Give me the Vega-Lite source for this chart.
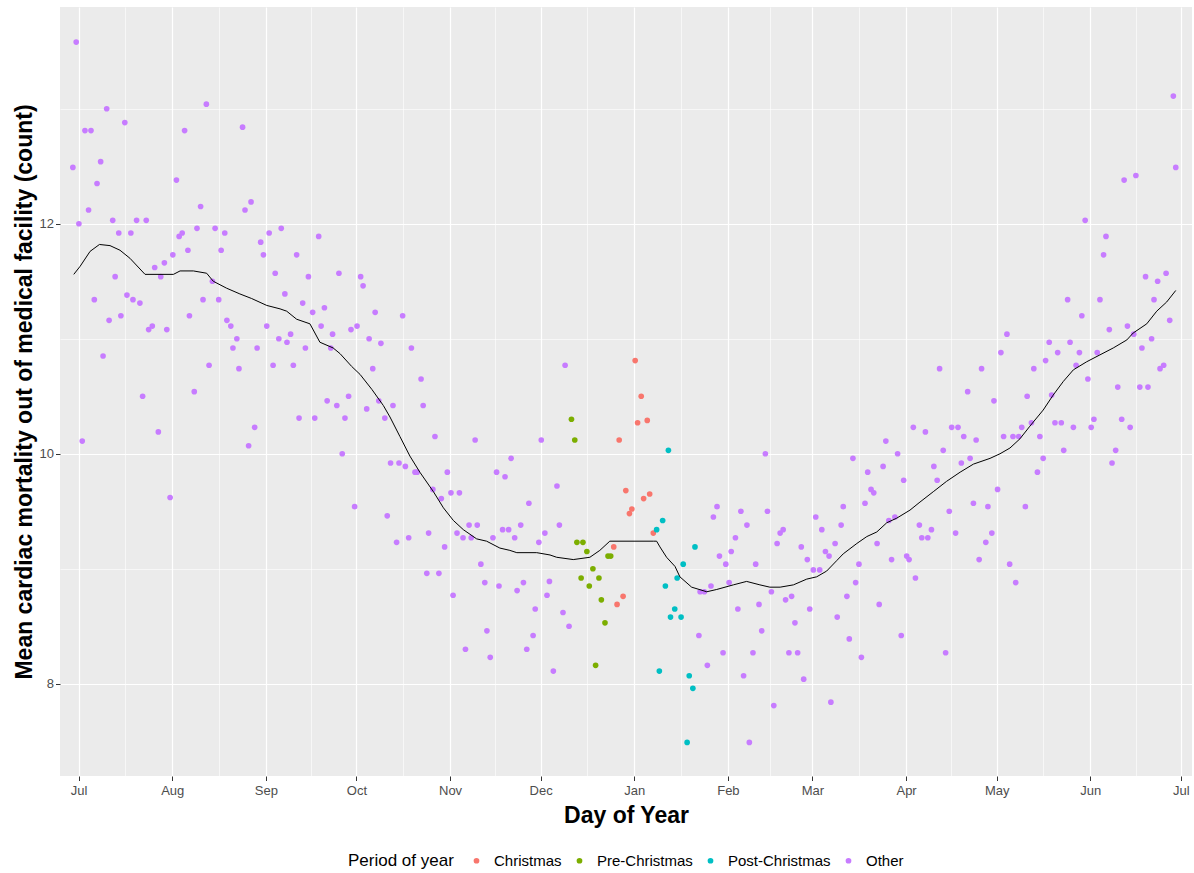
{
"$schema": "https://vega.github.io/schema/vega-lite/v6.json",
"width": 1132, "height": 769,
"autosize": "none",
"padding": {"left": 60, "top": 7, "right": 2, "bottom": 97},
"background": "white",
"config": {"view": {"fill": "#EBEBEB", "stroke": null}, "font": "Liberation Sans"},
"datasets": {
"pts": [
{"d":-0.8,"v":13.58,"p":"Other"},{"d":9.3,"v":13.0,"p":"Other"},{"d":15.3,"v":12.88,"p":"Other"},{"d":2.1,"v":12.81,"p":"Other"},{"d":4.1,"v":12.81,"p":"Other"},{"d":35.1,"v":12.81,"p":"Other"},{"d":-1.9,"v":12.49,"p":"Other"},{"d":7.3,"v":12.54,"p":"Other"},{"d":6.1,"v":12.35,"p":"Other"},{"d":32.4,"v":12.38,"p":"Other"},
{"d":3.3,"v":12.12,"p":"Other"},{"d":0.1,"v":12.0,"p":"Other"},{"d":11.3,"v":12.03,"p":"Other"},{"d":19.2,"v":12.03,"p":"Other"},{"d":22.4,"v":12.03,"p":"Other"},{"d":13.3,"v":11.92,"p":"Other"},{"d":17.3,"v":11.92,"p":"Other"},{"d":33.3,"v":11.89,"p":"Other"},{"d":34.3,"v":11.92,"p":"Other"},{"d":36.2,"v":11.77,"p":"Other"},
{"d":31.2,"v":11.73,"p":"Other"},{"d":28.4,"v":11.66,"p":"Other"},{"d":25.2,"v":11.62,"p":"Other"},{"d":27.2,"v":11.54,"p":"Other"},{"d":12.1,"v":11.54,"p":"Other"},{"d":5.2,"v":11.34,"p":"Other"},{"d":16.0,"v":11.38,"p":"Other"},{"d":18.0,"v":11.34,"p":"Other"},{"d":20.3,"v":11.31,"p":"Other"},{"d":36.7,"v":11.2,"p":"Other"},
{"d":10.1,"v":11.16,"p":"Other"},{"d":14.0,"v":11.2,"p":"Other"},{"d":23.2,"v":11.08,"p":"Other"},{"d":24.4,"v":11.11,"p":"Other"},{"d":29.2,"v":11.08,"p":"Other"},{"d":8.1,"v":10.85,"p":"Other"},{"d":21.2,"v":10.5,"p":"Other"},{"d":26.4,"v":10.19,"p":"Other"},{"d":1.2,"v":10.11,"p":"Other"},{"d":30.3,"v":9.62,"p":"Other"},
{"d":42.3,"v":13.04,"p":"Other"},{"d":54.3,"v":12.84,"p":"Other"},{"d":40.4,"v":12.15,"p":"Other"},{"d":57.1,"v":12.19,"p":"Other"},{"d":55.1,"v":12.12,"p":"Other"},{"d":39.2,"v":11.96,"p":"Other"},{"d":45.2,"v":11.96,"p":"Other"},{"d":48.4,"v":11.92,"p":"Other"},{"d":63.1,"v":11.92,"p":"Other"},{"d":67.1,"v":11.96,"p":"Other"},
{"d":60.3,"v":11.84,"p":"Other"},{"d":47.2,"v":11.77,"p":"Other"},{"d":61.2,"v":11.73,"p":"Other"},{"d":72.2,"v":11.73,"p":"Other"},{"d":65.1,"v":11.57,"p":"Other"},{"d":76.1,"v":11.54,"p":"Other"},{"d":44.3,"v":11.5,"p":"Other"},{"d":41.2,"v":11.34,"p":"Other"},{"d":46.4,"v":11.34,"p":"Other"},{"d":68.3,"v":11.39,"p":"Other"},
{"d":74.2,"v":11.31,"p":"Other"},{"d":49.1,"v":11.16,"p":"Other"},{"d":50.4,"v":11.11,"p":"Other"},{"d":62.3,"v":11.11,"p":"Other"},{"d":52.4,"v":11.0,"p":"Other"},{"d":51.1,"v":10.92,"p":"Other"},{"d":59.1,"v":10.92,"p":"Other"},{"d":66.3,"v":11.0,"p":"Other"},{"d":70.2,"v":11.04,"p":"Other"},{"d":69.0,"v":10.97,"p":"Other"},
{"d":75.1,"v":10.92,"p":"Other"},{"d":43.2,"v":10.77,"p":"Other"},{"d":53.1,"v":10.74,"p":"Other"},{"d":64.4,"v":10.77,"p":"Other"},{"d":71.1,"v":10.77,"p":"Other"},{"d":38.3,"v":10.54,"p":"Other"},{"d":73.0,"v":10.31,"p":"Other"},{"d":58.3,"v":10.23,"p":"Other"},{"d":56.3,"v":10.07,"p":"Other"},{"d":79.5,"v":11.89,"p":"Other"},
{"d":86.2,"v":11.57,"p":"Other"},{"d":93.4,"v":11.54,"p":"Other"},{"d":94.2,"v":11.46,"p":"Other"},{"d":77.5,"v":11.23,"p":"Other"},{"d":81.4,"v":11.27,"p":"Other"},{"d":80.3,"v":11.11,"p":"Other"},{"d":84.1,"v":11.04,"p":"Other"},{"d":90.2,"v":11.08,"p":"Other"},{"d":92.2,"v":11.11,"p":"Other"},{"d":98.2,"v":11.23,"p":"Other"},
{"d":107.3,"v":11.2,"p":"Other"},{"d":83.5,"v":10.92,"p":"Other"},{"d":96.2,"v":11.0,"p":"Other"},{"d":100.1,"v":10.96,"p":"Other"},{"d":110.2,"v":10.92,"p":"Other"},{"d":97.4,"v":10.74,"p":"Other"},{"d":113.4,"v":10.65,"p":"Other"},{"d":82.3,"v":10.46,"p":"Other"},{"d":85.5,"v":10.42,"p":"Other"},{"d":89.4,"v":10.5,"p":"Other"},
{"d":78.2,"v":10.31,"p":"Other"},{"d":88.2,"v":10.31,"p":"Other"},{"d":95.4,"v":10.39,"p":"Other"},{"d":99.4,"v":10.46,"p":"Other"},{"d":101.4,"v":10.31,"p":"Other"},{"d":104.1,"v":10.42,"p":"Other"},{"d":114.1,"v":10.42,"p":"Other"},{"d":87.3,"v":10.0,"p":"Other"},{"d":103.3,"v":9.92,"p":"Other"},{"d":106.1,"v":9.92,"p":"Other"},
{"d":108.2,"v":9.89,"p":"Other"},{"d":111.4,"v":9.84,"p":"Other"},{"d":112.1,"v":9.84,"p":"Other"},{"d":91.4,"v":9.54,"p":"Other"},{"d":102.2,"v":9.46,"p":"Other"},{"d":105.3,"v":9.23,"p":"Other"},{"d":109.3,"v":9.27,"p":"Other"},{"d":115.9,"v":9.31,"p":"Other"},{"d":118.0,"v":10.15,"p":"Other"},{"d":131.3,"v":10.12,"p":"Other"},
{"d":153.2,"v":10.12,"p":"Other"},{"d":143.2,"v":9.96,"p":"Other"},{"d":122.1,"v":9.84,"p":"Other"},{"d":138.4,"v":9.84,"p":"Other"},{"d":141.2,"v":9.8,"p":"Other"},{"d":117.3,"v":9.69,"p":"Other"},{"d":120.1,"v":9.61,"p":"Other"},{"d":123.3,"v":9.66,"p":"Other"},{"d":126.1,"v":9.66,"p":"Other"},{"d":149.1,"v":9.57,"p":"Other"},
{"d":125.3,"v":9.31,"p":"Other"},{"d":127.3,"v":9.27,"p":"Other"},{"d":129.3,"v":9.38,"p":"Other"},{"d":130.0,"v":9.27,"p":"Other"},{"d":132.0,"v":9.38,"p":"Other"},{"d":137.2,"v":9.27,"p":"Other"},{"d":140.4,"v":9.34,"p":"Other"},{"d":142.4,"v":9.34,"p":"Other"},{"d":144.4,"v":9.27,"p":"Other"},{"d":146.4,"v":9.38,"p":"Other"},
{"d":152.4,"v":9.23,"p":"Other"},{"d":154.4,"v":9.31,"p":"Other"},{"d":121.2,"v":9.19,"p":"Other"},{"d":133.2,"v":9.04,"p":"Other"},{"d":115.3,"v":8.96,"p":"Other"},{"d":119.3,"v":8.96,"p":"Other"},{"d":134.5,"v":8.88,"p":"Other"},{"d":139.2,"v":8.85,"p":"Other"},{"d":145.2,"v":8.81,"p":"Other"},{"d":147.3,"v":8.88,"p":"Other"},
{"d":155.9,"v":8.89,"p":"Other"},{"d":155.1,"v":8.77,"p":"Other"},{"d":124.0,"v":8.77,"p":"Other"},{"d":151.2,"v":8.65,"p":"Other"},{"d":135.2,"v":8.46,"p":"Other"},{"d":150.5,"v":8.42,"p":"Other"},{"d":128.1,"v":8.3,"p":"Other"},{"d":148.4,"v":8.3,"p":"Other"},{"d":136.3,"v":8.23,"p":"Other"},{"d":161.1,"v":10.77,"p":"Other"},
{"d":158.4,"v":9.72,"p":"Other"},{"d":159.2,"v":9.38,"p":"Other"},{"d":160.4,"v":8.62,"p":"Other"},{"d":162.4,"v":8.5,"p":"Other"},{"d":157.2,"v":8.11,"p":"Other"},
{"d":163.2,"v":10.3,"p":"Pre-Christmas"},{"d":164.3,"v":10.12,"p":"Pre-Christmas"},{"d":165.0,"v":9.23,"p":"Pre-Christmas"},{"d":167.0,"v":9.23,"p":"Pre-Christmas"},{"d":168.3,"v":9.15,"p":"Pre-Christmas"},{"d":175.3,"v":9.11,"p":"Pre-Christmas"},{"d":176.2,"v":9.11,"p":"Pre-Christmas"},{"d":170.3,"v":9.0,"p":"Pre-Christmas"},{"d":166.4,"v":8.92,"p":"Pre-Christmas"},{"d":172.3,"v":8.92,"p":"Pre-Christmas"},{"d":169.1,"v":8.85,"p":"Pre-Christmas"},{"d":173.1,"v":8.73,"p":"Pre-Christmas"},{"d":174.3,"v":8.53,"p":"Pre-Christmas"},{"d":171.2,"v":8.16,"p":"Pre-Christmas"},
{"d":177.2,"v":9.19,"p":"Christmas"},{"d":178.3,"v":8.69,"p":"Christmas"},{"d":179.0,"v":10.12,"p":"Christmas"},{"d":180.3,"v":8.76,"p":"Christmas"},{"d":181.2,"v":9.68,"p":"Christmas"},{"d":182.4,"v":9.48,"p":"Christmas"},{"d":183.2,"v":9.52,"p":"Christmas"},{"d":184.3,"v":10.81,"p":"Christmas"},{"d":185.1,"v":10.27,"p":"Christmas"},{"d":186.3,"v":10.5,"p":"Christmas"},{"d":187.1,"v":9.61,"p":"Christmas"},{"d":188.3,"v":10.29,"p":"Christmas"},{"d":189.1,"v":9.65,"p":"Christmas"},{"d":190.3,"v":9.31,"p":"Christmas"},
{"d":191.4,"v":9.34,"p":"Post-Christmas"},{"d":192.3,"v":8.11,"p":"Post-Christmas"},{"d":193.4,"v":9.42,"p":"Post-Christmas"},{"d":194.3,"v":8.85,"p":"Post-Christmas"},{"d":195.3,"v":10.03,"p":"Post-Christmas"},{"d":196.0,"v":8.58,"p":"Post-Christmas"},{"d":197.4,"v":8.65,"p":"Post-Christmas"},{"d":198.2,"v":8.92,"p":"Post-Christmas"},{"d":199.5,"v":8.58,"p":"Post-Christmas"},{"d":200.2,"v":9.04,"p":"Post-Christmas"},{"d":201.5,"v":7.49,"p":"Post-Christmas"},{"d":202.2,"v":8.07,"p":"Post-Christmas"},{"d":203.4,"v":7.96,"p":"Post-Christmas"},{"d":204.1,"v":9.19,"p":"Post-Christmas"},
{"d":227.4,"v":10.0,"p":"Other"},{"d":211.4,"v":9.54,"p":"Other"},{"d":210.2,"v":9.45,"p":"Other"},{"d":219.3,"v":9.5,"p":"Other"},{"d":228.1,"v":9.5,"p":"Other"},{"d":221.3,"v":9.38,"p":"Other"},{"d":217.5,"v":9.27,"p":"Other"},{"d":216.1,"v":9.15,"p":"Other"},{"d":212.2,"v":9.11,"p":"Other"},{"d":214.3,"v":9.04,"p":"Other"},
{"d":224.2,"v":9.04,"p":"Other"},{"d":231.3,"v":9.22,"p":"Other"},{"d":232.3,"v":9.31,"p":"Other"},{"d":233.3,"v":9.34,"p":"Other"},{"d":209.4,"v":8.85,"p":"Other"},{"d":215.4,"v":8.88,"p":"Other"},{"d":205.8,"v":8.8,"p":"Other"},{"d":207.2,"v":8.8,"p":"Other"},{"d":229.4,"v":8.8,"p":"Other"},{"d":234.1,"v":8.73,"p":"Other"},
{"d":225.3,"v":8.69,"p":"Other"},{"d":218.3,"v":8.65,"p":"Other"},{"d":226.2,"v":8.46,"p":"Other"},{"d":205.4,"v":8.42,"p":"Other"},{"d":213.4,"v":8.27,"p":"Other"},{"d":223.3,"v":8.27,"p":"Other"},{"d":235.2,"v":8.27,"p":"Other"},{"d":208.2,"v":8.16,"p":"Other"},{"d":220.2,"v":8.07,"p":"Other"},{"d":230.2,"v":7.81,"p":"Other"},
{"d":222.1,"v":7.49,"p":"Other"},{"d":267.3,"v":10.11,"p":"Other"},{"d":271.2,"v":10.0,"p":"Other"},{"d":256.4,"v":9.96,"p":"Other"},{"d":266.4,"v":9.89,"p":"Other"},{"d":261.3,"v":9.84,"p":"Other"},{"d":273.2,"v":9.77,"p":"Other"},{"d":262.4,"v":9.69,"p":"Other"},{"d":263.3,"v":9.66,"p":"Other"},{"d":260.4,"v":9.57,"p":"Other"},
{"d":253.2,"v":9.54,"p":"Other"},{"d":244.1,"v":9.45,"p":"Other"},{"d":252.5,"v":9.38,"p":"Other"},{"d":268.3,"v":9.42,"p":"Other"},{"d":270.3,"v":9.45,"p":"Other"},{"d":246.1,"v":9.34,"p":"Other"},{"d":250.5,"v":9.22,"p":"Other"},{"d":264.4,"v":9.22,"p":"Other"},{"d":239.3,"v":9.19,"p":"Other"},{"d":247.3,"v":9.15,"p":"Other"},
{"d":248.5,"v":9.11,"p":"Other"},{"d":241.3,"v":9.08,"p":"Other"},{"d":269.2,"v":9.08,"p":"Other"},{"d":274.2,"v":9.11,"p":"Other"},{"d":275.0,"v":9.08,"p":"Other"},{"d":258.4,"v":9.04,"p":"Other"},{"d":243.3,"v":8.99,"p":"Other"},{"d":245.4,"v":8.99,"p":"Other"},{"d":257.3,"v":8.88,"p":"Other"},{"d":236.1,"v":8.76,"p":"Other"},
{"d":254.4,"v":8.76,"p":"Other"},{"d":265.1,"v":8.69,"p":"Other"},{"d":242.1,"v":8.65,"p":"Other"},{"d":237.2,"v":8.53,"p":"Other"},{"d":251.2,"v":8.58,"p":"Other"},{"d":255.2,"v":8.39,"p":"Other"},{"d":272.4,"v":8.42,"p":"Other"},{"d":238.1,"v":8.27,"p":"Other"},{"d":259.2,"v":8.23,"p":"Other"},{"d":240.1,"v":8.04,"p":"Other"},
{"d":249.1,"v":7.84,"p":"Other"},{"d":307.4,"v":11.04,"p":"Other"},{"d":305.4,"v":10.88,"p":"Other"},{"d":285.1,"v":10.74,"p":"Other"},{"d":299.0,"v":10.74,"p":"Other"},{"d":294.4,"v":10.54,"p":"Other"},{"d":303.1,"v":10.46,"p":"Other"},{"d":314.1,"v":10.5,"p":"Other"},{"d":276.4,"v":10.23,"p":"Other"},{"d":280.4,"v":10.19,"p":"Other"},
{"d":289.1,"v":10.23,"p":"Other"},{"d":291.2,"v":10.23,"p":"Other"},{"d":293.1,"v":10.15,"p":"Other"},{"d":297.2,"v":10.12,"p":"Other"},{"d":306.3,"v":10.15,"p":"Other"},{"d":309.4,"v":10.15,"p":"Other"},{"d":311.3,"v":10.15,"p":"Other"},{"d":312.3,"v":10.23,"p":"Other"},{"d":286.3,"v":10.03,"p":"Other"},{"d":283.2,"v":9.89,"p":"Other"},
{"d":292.3,"v":9.92,"p":"Other"},{"d":295.2,"v":9.96,"p":"Other"},{"d":284.3,"v":9.77,"p":"Other"},{"d":304.3,"v":9.69,"p":"Other"},{"d":296.3,"v":9.57,"p":"Other"},{"d":301.1,"v":9.54,"p":"Other"},{"d":313.5,"v":9.54,"p":"Other"},{"d":288.3,"v":9.5,"p":"Other"},{"d":278.4,"v":9.38,"p":"Other"},{"d":282.4,"v":9.34,"p":"Other"},
{"d":279.2,"v":9.27,"p":"Other"},{"d":281.2,"v":9.27,"p":"Other"},{"d":290.4,"v":9.31,"p":"Other"},{"d":302.4,"v":9.31,"p":"Other"},{"d":300.4,"v":9.23,"p":"Other"},{"d":298.2,"v":9.08,"p":"Other"},{"d":308.3,"v":9.04,"p":"Other"},{"d":277.1,"v":8.92,"p":"Other"},{"d":310.3,"v":8.88,"p":"Other"},{"d":287.1,"v":8.27,"p":"Other"},
{"d":362.5,"v":13.11,"p":"Other"},{"d":363.3,"v":12.49,"p":"Other"},{"d":346.2,"v":12.38,"p":"Other"},{"d":350.1,"v":12.42,"p":"Other"},{"d":333.3,"v":12.03,"p":"Other"},{"d":340.2,"v":11.89,"p":"Other"},{"d":339.4,"v":11.73,"p":"Other"},{"d":353.3,"v":11.54,"p":"Other"},{"d":357.3,"v":11.5,"p":"Other"},{"d":360.1,"v":11.57,"p":"Other"},
{"d":327.5,"v":11.34,"p":"Other"},{"d":338.2,"v":11.34,"p":"Other"},{"d":356.1,"v":11.34,"p":"Other"},{"d":332.2,"v":11.2,"p":"Other"},{"d":361.3,"v":11.16,"p":"Other"},{"d":341.3,"v":11.08,"p":"Other"},{"d":347.3,"v":11.11,"p":"Other"},{"d":349.4,"v":11.04,"p":"Other"},{"d":321.4,"v":10.97,"p":"Other"},{"d":328.3,"v":10.97,"p":"Other"},
{"d":355.3,"v":11.0,"p":"Other"},{"d":324.2,"v":10.88,"p":"Other"},{"d":331.4,"v":10.88,"p":"Other"},{"d":337.3,"v":10.88,"p":"Other"},{"d":352.1,"v":10.92,"p":"Other"},{"d":320.2,"v":10.81,"p":"Other"},{"d":330.3,"v":10.77,"p":"Other"},{"d":358.1,"v":10.74,"p":"Other"},{"d":359.3,"v":10.77,"p":"Other"},{"d":316.3,"v":10.74,"p":"Other"},
{"d":334.2,"v":10.65,"p":"Other"},{"d":322.2,"v":10.51,"p":"Other"},{"d":344.1,"v":10.58,"p":"Other"},{"d":351.4,"v":10.58,"p":"Other"},{"d":354.1,"v":10.58,"p":"Other"},{"d":315.5,"v":10.27,"p":"Other"},{"d":323.3,"v":10.27,"p":"Other"},{"d":325.4,"v":10.27,"p":"Other"},{"d":329.4,"v":10.23,"p":"Other"},{"d":335.3,"v":10.23,"p":"Other"},
{"d":336.2,"v":10.3,"p":"Other"},{"d":345.4,"v":10.3,"p":"Other"},{"d":348.2,"v":10.23,"p":"Other"},{"d":318.3,"v":10.15,"p":"Other"},{"d":326.2,"v":10.03,"p":"Other"},{"d":343.4,"v":10.03,"p":"Other"},{"d":342.2,"v":9.92,"p":"Other"},{"d":319.4,"v":9.96,"p":"Other"},{"d":317.5,"v":9.84,"p":"Other"}
],
"smooth": [
{"d":-1.6,"v":11.56},{"d":0.5,"v":11.63},{"d":3.8,"v":11.76},{"d":6.9,"v":11.82},{"d":10.4,"v":11.81},{"d":13.7,"v":11.77},{"d":17.0,"v":11.7},{"d":22.0,"v":11.56},{"d":31.4,"v":11.56},{"d":33.6,"v":11.59},{"d":38.0,"v":11.59},{"d":42.4,"v":11.57},{"d":44.6,"v":11.5},{"d":49.0,"v":11.44},{"d":53.4,"v":11.39},{"d":57.3,"v":11.35},{"d":62.3,"v":11.29},{"d":66.7,"v":11.26},{"d":68.9,"v":11.24},{"d":72.2,"v":11.17},{"d":76.6,"v":11.13},{"d":79.9,"v":10.97},{"d":84.3,"v":10.92},{"d":86.6,"v":10.87},{"d":90.4,"v":10.76},{"d":93.2,"v":10.69},{"d":97.1,"v":10.56},{"d":100.9,"v":10.42},{"d":103.1,"v":10.32},{"d":106.4,"v":10.15},{"d":109.7,"v":9.98},{"d":113.0,"v":9.84},{"d":117.5,"v":9.67},{"d":120.8,"v":9.53},{"d":124.1,"v":9.42},{"d":127.4,"v":9.34},{"d":131.8,"v":9.26},{"d":135.1,"v":9.24},{"d":139.5,"v":9.18},{"d":142.8,"v":9.16},{"d":145.1,"v":9.14},{"d":151.7,"v":9.14},{"d":156.1,"v":9.12},{"d":158.3,"v":9.1},{"d":163.8,"v":9.08},{"d":169.3,"v":9.1},{"d":172.6,"v":9.16},{"d":175.9,"v":9.24},{"d":190.3,"v":9.24},{"d":191.4,"v":9.24},{"d":192.5,"v":9.19},{"d":194.7,"v":9.1},{"d":197.5,"v":9.02},{"d":199.1,"v":8.93},{"d":203.0,"v":8.84},{"d":208.0,"v":8.8},{"d":211.3,"v":8.82},{"d":216.8,"v":8.86},{"d":221.2,"v":8.89},{"d":225.6,"v":8.86},{"d":228.9,"v":8.84},{"d":232.3,"v":8.84},{"d":236.7,"v":8.86},{"d":241.1,"v":8.91},{"d":244.4,"v":8.93},{"d":247.7,"v":8.98},{"d":251.0,"v":9.07},{"d":253.2,"v":9.13},{"d":257.7,"v":9.22},{"d":261.0,"v":9.28},{"d":264.3,"v":9.32},{"d":267.6,"v":9.4},{"d":270.9,"v":9.44},{"d":275.3,"v":9.51},{"d":278.6,"v":9.58},{"d":283.0,"v":9.67},{"d":287.4,"v":9.76},{"d":291.9,"v":9.84},{"d":296.3,"v":9.91},{"d":301.8,"v":9.96},{"d":305.1,"v":10.0},{"d":308.4,"v":10.05},{"d":311.7,"v":10.13},{"d":315.0,"v":10.24},{"d":319.4,"v":10.38},{"d":322.7,"v":10.51},{"d":326.1,"v":10.63},{"d":329.4,"v":10.73},{"d":333.8,"v":10.8},{"d":338.2,"v":10.86},{"d":342.6,"v":10.92},{"d":347.1,"v":10.99},{"d":349.2,"v":11.05},{"d":353.7,"v":11.13},{"d":357.0,"v":11.24},{"d":360.3,"v":11.32},{"d":363.3,"v":11.42}
]
},
"layer": [
{
"data": {"name": "pts"},
"mark": {"type": "circle", "size": 32, "opacity": 1},
"encoding": {
"x": {"field": "d", "type": "quantitative",
 "scale": {"domain": [-6.16, 368.68], "nice": false, "zero": false},
 "axis": {
  "title": "Day of Year",
  "values": [0,15.5,31,46.5,62,77,92,107.5,123,138,153,168.5,184,199.5,215,229,243,258.5,274,289,304,319.5,335,350,365],
  "labelExpr": "indexof([0,31,62,92,123,153,184,215,243,274,304,335,365], datum.value) >= 0 ? ['Jul','Aug','Sep','Oct','Nov','Dec','Jan','Feb','Mar','Apr','May','Jun','Jul'][indexof([0,31,62,92,123,153,184,215,243,274,304,335,365], datum.value)] : ''",
  "labelFlush": false, "labelOverlap": false,
  "labelFontSize": 13, "labelColor": "#4D4D4D", "labelPadding": 4,
  "tickSize": 4.5, "tickColor": "#333333",
  "tickOpacity": {"condition": {"test": "indexof([0,31,62,92,123,153,184,215,243,274,304,335,365], datum.value) < 0", "value": 0}, "value": 1},
  "domain": false,
  "grid": true, "gridColor": "#FFFFFF",
  "gridWidth": {"condition": {"test": "indexof([0,31,62,92,123,153,184,215,243,274,304,335,365], datum.value) < 0", "value": 0.6}, "value": 1.2},
  "titleFontSize": 23, "titleFontWeight": "bold", "titleColor": "#000000",
  "titleY": 39, "titleBaseline": "middle"
 }},
"y": {"field": "v", "type": "quantitative",
 "scale": {"domain": [7.198, 13.885], "nice": false, "zero": false},
 "axis": {
  "title": "Mean cardiac mortality out of medical facility (count)",
  "values": [8,9,10,11,12,13],
  "labelExpr": "datum.value % 2 == 0 ? format(datum.value, 'd') : ''",
  "labelFontSize": 13, "labelColor": "#4D4D4D", "labelPadding": 2,
  "tickSize": 4.5, "tickColor": "#333333",
  "tickOpacity": {"condition": {"test": "datum.value % 2 == 1", "value": 0}, "value": 1},
  "domain": false,
  "grid": true, "gridColor": "#FFFFFF",
  "gridWidth": {"condition": {"test": "datum.value % 2 == 1", "value": 0.6}, "value": 1.2},
  "titleFontSize": 23, "titleFontWeight": "bold", "titleColor": "#000000",
  "titleX": -36, "titleY": 384.5, "titleBaseline": "middle", "titleAlign": "center", "titleAngle": -90
 }},
"color": {"field": "p", "type": "nominal",
 "scale": {"domain": ["Christmas","Pre-Christmas","Post-Christmas","Other"], "range": ["#F8766D","#7CAE00","#00BFC4","#C77CFF"]},
 "legend": {"title": "Period of year", "orient": "none", "legendX": 288, "legendY": 846, "direction": "horizontal", "columns": 4,
  "titleOrient": "left", "titleFontSize": 17, "titleFontWeight": "normal", "titleColor": "#000000", "titlePadding": 15,
  "labelFontSize": 15, "labelColor": "#000000", "symbolSize": 33, "symbolType": "circle", "labelOffset": 10, "columnPadding": 10, "padding": 0}
}
}
},
{
"data": {"name": "smooth"},
"mark": {"type": "line", "color": "#000000", "strokeWidth": 1},
"encoding": {
"x": {"field": "d", "type": "quantitative"},
"y": {"field": "v", "type": "quantitative"}
}
}
]
}
